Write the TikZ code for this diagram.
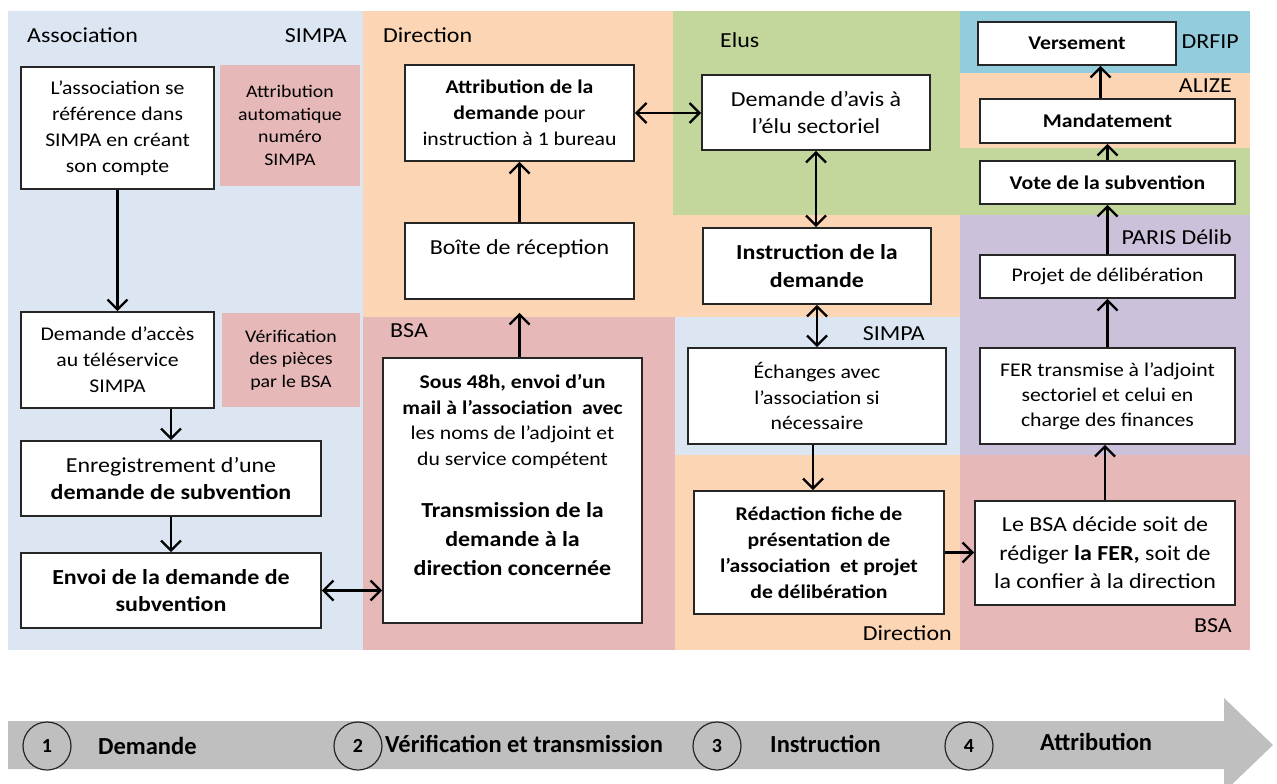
\documentclass[tikz,border=0pt]{standalone}
\usepackage{fontspec}
\setmainfont{Carlito}[FakeStretch=1.12]
\newfontfamily\barfont{Carlito}
\usepackage{tikz}
\usetikzlibrary{arrows.meta}

\definecolor{assocblue}{HTML}{DCE6F2}
\definecolor{dirorange}{HTML}{FCD5B5}
\definecolor{bsapink}{HTML}{E6B9B8}
\definecolor{elusgreen}{HTML}{C3D69B}
\definecolor{drfipcyan}{HTML}{93CDDD}
\definecolor{delibpurple}{HTML}{CCC1DA}
\definecolor{bargray}{HTML}{BFBFBF}

\tikzset{
  f10/.style={font=\fontsize{17.7}{22.5}\selectfont},
  f11/.style={font=\fontsize{19.4}{25.5}\selectfont},
  f12/.style={font=\fontsize{21.4}{27.5}\selectfont},
  box/.style={draw=black!85, line width=1.6pt, fill=white, align=center, inner sep=0pt},
  memo/.style={fill=bsapink, align=center, inner sep=0pt, f10},
  zone/.style={f12, inner sep=0pt},
  flow/.style={line width=2.4pt, >={Straight Barb[length=10pt,width=20pt]}},
  phase/.style={circle, draw=black!85, line width=1.2pt, minimum size=48pt, inner sep=0pt,
    font=\barfont\bfseries\fontsize{20}{24}\selectfont},
  phasetxt/.style={anchor=west, inner sep=0pt, font=\barfont\bfseries\fontsize{24.5}{28}\selectfont}
}

\begin{document}
\begin{tikzpicture}[x=1pt,y=-1pt]
  \useasboundingbox (0,0) rectangle (1277,784);

  \fill[assocblue] (8,11) rectangle (363,650);
  \fill[dirorange] (363,11) rectangle (673,317);
  \fill[bsapink] (363,317) rectangle (675,650);
  \fill[elusgreen] (673,11) rectangle (960,215);
  \fill[dirorange] (673,215) rectangle (960,317);
  \fill[assocblue] (675,317) rectangle (960,455);
  \fill[dirorange] (675,455) rectangle (960,650);
  \fill[drfipcyan] (960,11) rectangle (1250,73);
  \fill[dirorange] (960,73) rectangle (1250,148);
  \fill[elusgreen] (960,148) rectangle (1250,215);
  \fill[delibpurple] (960,215) rectangle (1250,455);
  \fill[bsapink] (960,455) rectangle (1250,650);

  \node[zone, anchor=west] (ZAssoc) at (27,35) {Association};
  \node[zone, anchor=east] (ZSimpa1) at (347,36) {SIMPA};
  \node[zone, anchor=west] (ZDir1) at (383,35) {Direction};
  \node[zone, anchor=west] (ZBsa1) at (390,331) {BSA};
  \node[zone, anchor=west] (ZElus) at (720,40) {Elus};
  \node[zone, anchor=east] (ZSimpa2) at (925,334) {SIMPA};
  \node[zone, anchor=east] (ZDir2) at (952,633) {Direction};
  \node[zone, anchor=east] (ZDrfip) at (1239,42) {DRFIP};
  \node[zone, anchor=east] (ZAlize) at (1232,86) {ALIZE};
  \node[zone, anchor=east] (ZDelib) at (1232,237) {PARIS Délib};
  \node[zone, anchor=east] (ZBsa2) at (1232,626) {BSA};

  \node[memo, minimum width=140pt, minimum height=121pt] (M1) at (290,125.5) {Attribution\\ automatique\\ numéro\\ SIMPA};
  \node[memo, minimum width=138pt, minimum height=94pt] (M2) at (291,360) {Vérification\\ des pièces\\ par le BSA};

  \node[box, f11, font=\fontsize{19.4}{26}\selectfont, minimum width=193pt, minimum height=122pt] (B1) at (117.5,128) {L’association se\\ référence dans\\ SIMPA en créant\\ son compte};
  \node[box, f11, font=\fontsize{19.4}{26}\selectfont, minimum width=193pt, minimum height=96pt] (B2) at (117.5,360) {Demande d’accès\\ au téléservice\\ SIMPA};
  \node[box, f12, minimum width=300pt, minimum height=75pt] (B3) at (171,478.5) {Enregistrement d’une\\ \textbf{demande de subvention}};
  \node[box, f12, minimum width=300pt, minimum height=75pt] (B4) at (171,590.5) {\textbf{Envoi de la demande de}\\ \textbf{subvention}};

  \node[box, f11, font=\fontsize{19.4}{26}\selectfont, minimum width=229pt, minimum height=96pt] (B5) at (519.5,113) {\textbf{Attribution de la}\\ \textbf{demande} pour\\ instruction à 1 bureau};
  \node[box, f12, minimum width=229pt, minimum height=76pt] (B6) at (519.5,261) {Boîte de réception\\ ~};
  \node[box, f11, font=\fontsize{19.4}{25.5}\selectfont, minimum width=259pt, minimum height=265pt] (B7) at (512.5,490.5)
    {\textbf{Sous 48h, envoi d’un}\\ \textbf{mail à l’association\enspace avec}\\ les noms de l’adjoint et\\ du service compétent\\[26.5pt]
     {\fontsize{21.4}{29}\selectfont\bfseries Transmission de la}\\[3.5pt] {\fontsize{21.4}{29}\selectfont\bfseries demande à la}\\[3.5pt]
     {\fontsize{21.4}{29}\selectfont\bfseries direction concernée}\\[6pt] ~};

  \node[box, f12, minimum width=228pt, minimum height=75pt] (B8) at (816,112.5) {Demande d’avis à\\ l’élu sectoriel};
  \node[box, f12, minimum width=228pt, minimum height=76pt] (B9) at (817,266) {\textbf{Instruction de la}\\ \textbf{demande}};
  \node[box, f11, minimum width=258pt, minimum height=96pt] (B10) at (817,396) {Échanges avec\\ l’association si\\ nécessaire};
  \node[box, f11, font=\fontsize{19.4}{26}\selectfont, minimum width=250pt, minimum height=123pt] (B11) at (819,552.5) {\textbf{Rédaction fiche de}\\ \textbf{présentation de}\\ \textbf{l’association\enspace et projet}\\ \textbf{de délibération}};

  \node[box, f11, minimum width=198pt, minimum height=43pt] (B12) at (1077,43.5) {\textbf{Versement}};
  \node[box, f11, minimum width=255pt, minimum height=44pt] (B13) at (1107.5,121) {\textbf{Mandatement}};
  \node[box, f11, minimum width=255pt, minimum height=43pt] (B14) at (1107.5,182.5) {\textbf{Vote de la subvention}};
  \node[box, f11, minimum width=255pt, minimum height=43pt] (B15) at (1107.5,276.5) {Projet de délibération};
  \node[box, f11, font=\fontsize{19.4}{25}\selectfont, minimum width=255pt, minimum height=96pt] (B16) at (1107.5,396) {FER transmise à l’adjoint\\ sectoriel et celui en\\ charge des finances};
  \node[box, f12, font=\fontsize{21.4}{28.5}\selectfont, minimum width=260pt, minimum height=104pt] (B17) at (1105,553) {Le BSA décide soit de\\ rédiger \textbf{la FER,} soit de\\ la confier à la direction};

  \draw[flow,->] (B1) -- (B2);
  \draw[flow,->] (B2.south -| B3) -- (B3);
  \draw[flow,->] (B3) -- (B4);
  \draw[flow,<->] (B4.east) -- (B4.east -| B7.west);
  \draw[flow,->,shorten >=13pt] (B6.south |- B7.north) -- (B6.south);
  \draw[flow,->] (B6) -- (B5);
  \draw[flow,<->] (B5.east) -- (B5.east -| B8.west);
  \draw[flow,<->] (B8.south) -- (B8.south |- B9.north);
  \draw[flow,<->] (B9) -- (B10);
  \draw[flow,->] ([xshift=-4pt]B10.south) -- ([xshift=-4pt]B10.south |- B11.north);
  \draw[flow,->] (B11.east) -- (B11.east -| B17.west);
  \draw[flow,->] (B17) -- (B17 |- B16.south);
  \draw[flow,->] (B16) -- (B15);
  \draw[flow,->] (B15) -- (B14);
  \draw[flow,->] (B14) -- (B13);
  \draw[flow,->] ([xshift=-7pt]B13.north) -- ([xshift=-7pt]B13.north |- B12.south);

  \begin{scope}
    \clip (0,0) rectangle (1277,784);
    \fill[bargray] (8,721) -- (1224,721) -- (1224,698) -- (1273,745) -- (1224,792) -- (1224,769) -- (8,769) -- cycle;
  \end{scope}
  \node[phase] (P1) at (47,746) {1};
  \node[phasetxt] (T1) at (98,746) {Demande};
  \node[phase] (P2) at (358,746) {2};
  \node[phasetxt] (T2) at (385,744) {Vérification et transmission};
  \node[phase] (P3) at (717,746) {3};
  \node[phasetxt] (T3) at (770,744) {Instruction};
  \node[phase] (P4) at (969,746) {4};
  \node[phasetxt] (T4) at (1040,742) {Attribution};
\end{tikzpicture}
\end{document}
